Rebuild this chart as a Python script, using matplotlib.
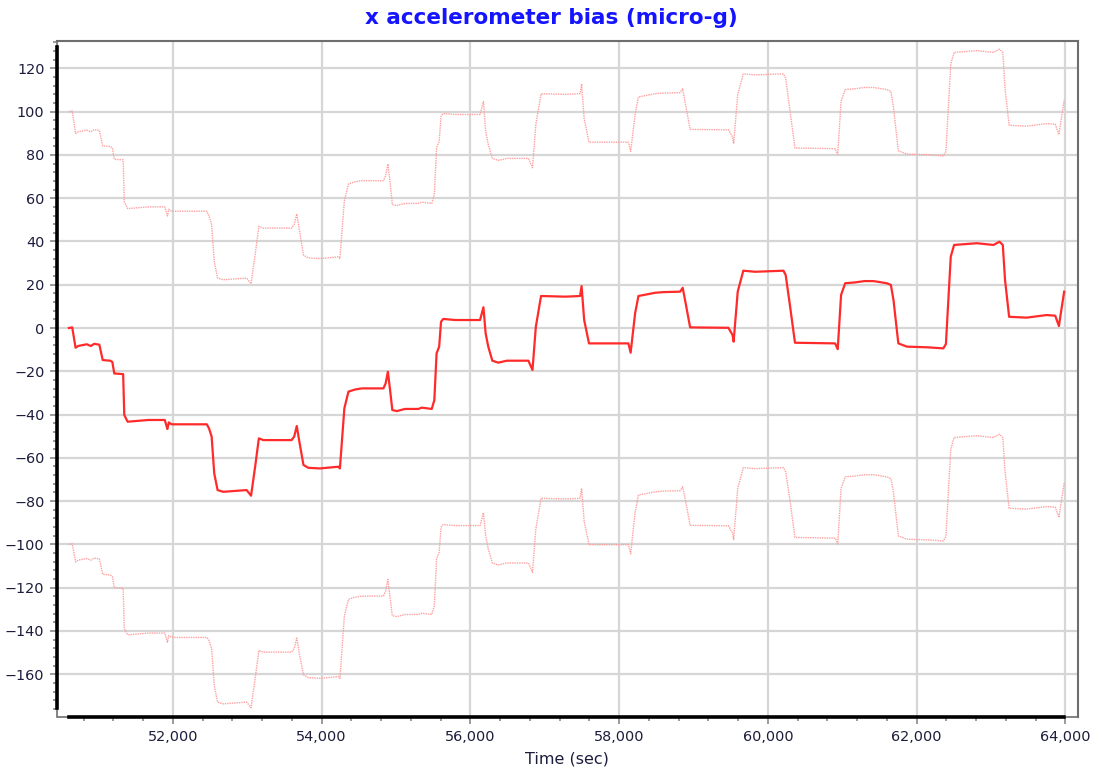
import matplotlib.pyplot as plt
import numpy as np
from matplotlib.patches import Rectangle
from matplotlib.ticker import MultipleLocator, FuncFormatter

# x accelerometer bias estimate (micro-g) and its 1-sigma bounds
time_s = [
    50600, 50645,
    50690, 50725, 50840, 50895, 50940, 51010,
    51055, 51155, 51185, 51210, 51330,
    51345, 51390, 51670, 51890, 51925, 51945, 51980, 52455,
    52485, 52520, 52555, 52600, 52675, 52990, 53050,
    53105, 53155, 53215, 53595, 53630, 53665, 53700,
    53755, 53820, 53975, 54225, 54245,
    54305, 54360, 54450, 54540, 54830, 54860, 54890, 54920,
    54950, 55010, 55120, 55300, 55345, 55480, 55515,
    55545, 55580, 55605, 55635, 55795, 56130, 56175,
    56205, 56240, 56295, 56375, 56490, 56780, 56835,
    56880, 56950, 57275, 57475, 57495,
    57530, 57595, 58125, 58155,
    58215, 58260, 58485, 58595, 58820, 58855,
    58895, 58955, 59470, 59525, 59540,
    59595, 59670, 59830, 60210, 60240,
    60300, 60365, 60905, 60940,
    60985, 61040, 61175, 61300, 61420, 61600, 61655,
    61690, 61755, 61870, 62135, 62360, 62395,
    62460, 62505, 62810, 63035, 63115, 63160,
    63190, 63245, 63480, 63750, 63865, 63915, 63930, 63985,
]
bias = [
    0.0, 0.3,
    -9.1, -8.3, -7.5, -8.3, -7.3, -7.7,
    -14.8, -15.1, -15.7, -21.0, -21.3,
    -40.2, -43.3, -42.5, -42.5, -46.7, -43.6, -44.5, -44.5,
    -46.4, -50.2, -67.2, -74.9, -75.7, -74.9, -77.5,
    -64.1, -51.0, -51.8, -51.8, -50.2, -45.3, -52.6,
    -63.3, -64.6, -64.9, -64.1, -64.9,
    -37.1, -29.4, -28.4, -27.9, -27.9, -25.6, -20.2, -28.7,
    -37.9, -38.4, -37.4, -37.4, -36.8, -37.4, -33.3,
    -11.7, -8.6, 2.9, 4.2, 3.7, 3.7, 9.6,
    -2.5, -8.6, -15.1, -16.0, -15.1, -15.1, -19.4,
    0.6, 14.8, 14.5, 14.8, 19.4,
    3.7, -7.1, -7.1, -11.4,
    6.8, 14.8, 16.3, 16.6, 16.8, 18.6,
    11.4, 0.3, 0.1, -3.2, -6.3,
    16.8, 26.5, 26.0, 26.5, 24.5,
    9.8, -6.8, -7.1, -9.8,
    15.3, 20.7, 21.1, 21.7, 21.7, 20.7, 19.9,
    12.9, -7.1, -8.6, -8.9, -9.4, -7.4,
    33.0, 38.4, 39.2, 38.4, 39.9, 38.4,
    22.2, 5.2, 4.8, 6.0, 5.7, 0.9, 4.5, 16.8,
]
sigma = ([100] * 2 + [99] * 11 + [98.5] * 8 + [98] * 14 + [97] * 5 + [96] * 8
         + [95] * 14 + [93.5] * 12 + [93] * 4 + [92] * 6 + [91.5] * 5 + [91] * 5
         + [90] * 4 + [89.5] * 7 + [89] * 12 + [88.5] * 8)

t = np.array(time_s, dtype=float)
b = np.array(bias)
s = np.array(sigma, dtype=float)
upper = b + s
lower = b - s

fig = plt.figure(figsize=(11.02, 7.74), dpi=100)
ax = fig.add_axes([0.0517, 0.0736, 0.9263, 0.8738])

txtcol = '#1c1c3c'
ax.plot(t, upper, color='#ffa0a0', lw=1.0, ls=(0, (1, 0.7)), zorder=3)
ax.plot(t, lower, color='#ffa0a0', lw=1.0, ls=(0, (1, 0.7)), zorder=3)
ax.plot(t, b, color='#ff2a2a', lw=1.6, zorder=4)

ax.set_xlim(50440, 64168)
ax.set_ylim(-179.8, 132.8)
ax.xaxis.set_major_locator(MultipleLocator(2000))
ax.xaxis.set_minor_locator(MultipleLocator(400))
ax.yaxis.set_major_locator(MultipleLocator(20))
ax.yaxis.set_minor_locator(MultipleLocator(4))
ax.xaxis.set_major_formatter(FuncFormatter(lambda v, p: f"{int(v):,}"))
ax.grid(True, which='major', color='#d6d6d6', lw=1.6, zorder=0)
ax.tick_params(which='both', direction='out', colors='#8a8a8a', labelcolor=txtcol,
               labelsize=10.4)
ax.tick_params(which='major', length=5, width=1.2, pad=4)
ax.tick_params(which='minor', length=3, width=1.2)

# thin gray frame, with thick black axis lines over the data range
for side in ['top', 'right']:
    ax.spines[side].set_color('#6e6e6e')
    ax.spines[side].set_linewidth(1.5)
for side in ['left', 'bottom']:
    ax.spines[side].set_color('black')
    ax.spines[side].set_linewidth(2.6)
ax.spines['left'].set_bounds(lower.min(), upper.max() + 1)
ax.spines['bottom'].set_bounds(t.min(), t.max())
ax.add_patch(Rectangle((0, 0), 1, 1, transform=ax.transAxes, fill=False,
                       ec='#6e6e6e', lw=1.2, clip_on=False, zorder=1))

ax.set_xlabel('Time (sec)', color=txtcol, fontsize=11.5, labelpad=6)
fig.suptitle('x accelerometer bias (micro-g)', color='#1414ff', fontsize=15.5,
             fontweight='bold', y=0.9767, va='center')

fig.savefig('out.png', dpi=100)
